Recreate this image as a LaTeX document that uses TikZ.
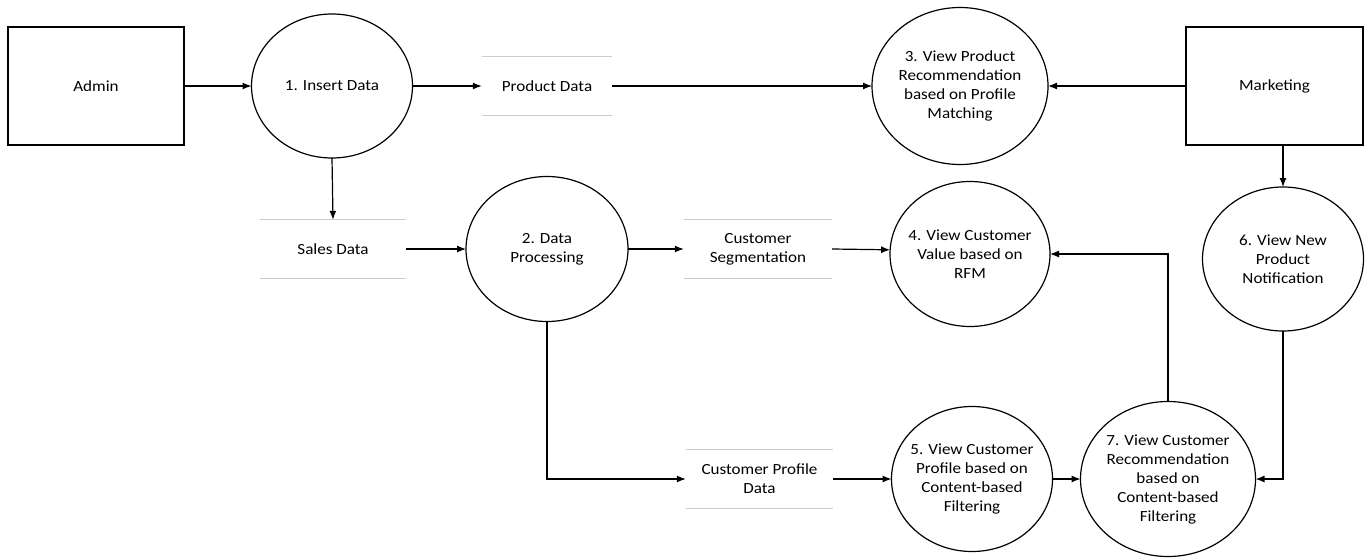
\documentclass[tikz,border=0pt]{standalone}
\usepackage{fontspec}
\setmainfont{Carlito}[FakeStretch=1.1]
\usetikzlibrary{shapes.geometric,arrows.meta}
\definecolor{storegray}{RGB}{205,205,205}
\begin{document}
\begin{tikzpicture}[x=1pt,y=-1pt,
  txt/.style={align=center,font=\fontsize{15.5}{19}\selectfont},
  ent/.style={draw,line width=1.2pt,minimum width=176pt,minimum height=118pt,inner sep=0pt,txt},
  proc/.style={draw,ellipse,line width=1.2pt,inner sep=0pt,outer sep=0pt},
  storeline/.style={draw=storegray,line width=0.9pt},
  store/.style={minimum height=58pt,inner sep=0pt,txt,
    append after command={(\tikzlastnode.north west) edge[storeline] (\tikzlastnode.north east)
      (\tikzlastnode.south west) edge[storeline] (\tikzlastnode.south east)}},
  flow/.style={line width=1.2pt,-{Latex[length=9pt,width=7pt]}}]
\useasboundingbox (0,0) rectangle (1365,557);

% entities
\node[ent] (admin) at (96,86) {Admin};
\node[ent,minimum width=177pt] (mk) at (1274.5,86) {Marketing};

% processes
\node[proc,minimum width=161pt,minimum height=144pt,label={[txt]center:1. Insert Data}] (e1) at (332,86) {};
\node[proc,minimum width=162pt,minimum height=145pt,label={[txt]center:2. Data\\Processing}] (e2) at (547,249) {};
\node[proc,minimum width=176pt,minimum height=157pt,label={[txt]center:3. View Product\\Recommendation\\based on Profile\\Matching}] (e3) at (960,86) {};
\node[proc,minimum width=160pt,minimum height=145pt,label={[txt]center:4. View Customer\\Value based on\\RFM}] (e4) at (970,254) {};
\node[proc,minimum width=161pt,minimum height=145pt,label={[txt]center:5. View Customer\\Profile based on\\Content-based\\Filtering}] (e5) at (972,479) {};
\node[proc,minimum width=161pt,minimum height=144pt,label={[txt]center:6. View New\\Product\\Notification}] (e6) at (1283,259) {};
\node[proc,minimum width=175pt,minimum height=155pt,label={[txt]center:7. View Customer\\Recommendation\\based on\\Content-based\\Filtering}] (e7) at (1168,479) {};

% data stores
\node[store,minimum width=130pt] (pd) at (547,86) {Product Data};
\node[store,minimum width=146pt] (sd) at (333,249) {Sales Data};
\node[store,minimum width=148pt] (cs) at (758,249) {Customer\\Segmentation};
\node[store,minimum width=147pt] (cpd) at (759.5,479) {Customer Profile\\Data};

% flows
\draw[flow] (admin.east) -- (e1.west);
\draw[flow] (e1.east) -- (pd.west);
\draw[flow] (pd.east) -- (e3.west);
\draw[flow] (mk.west) -- (e3.east);
\draw[flow] (e1.south) -- (sd.north);
\draw[flow] (sd.east) -- (e2.west);
\draw[flow] (e2.east) -- (cs.west);
\draw[flow] (cs.east) -- (e4.177);
\draw[flow] (e6.north |- mk.south) -- (e6.north);
\draw[flow] (e2.south) |- (cpd.west);
\draw[flow] (cpd.east) -- (e5.west);
\draw[flow] (e5.east) -- (e7.west);
\draw[flow] (e6.south) |- (e7.east);
\draw[flow] (e7.north) |- (e4.east);
\end{tikzpicture}
\end{document}
